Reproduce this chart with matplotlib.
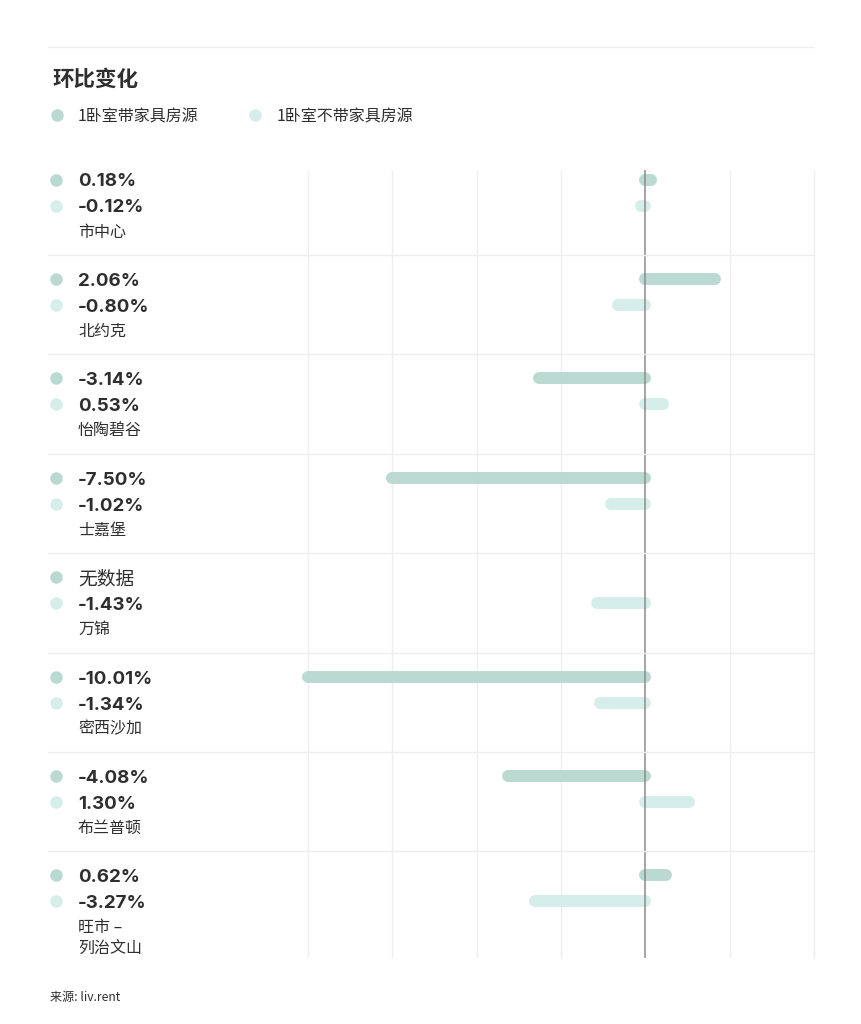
import matplotlib
matplotlib.use("Agg")
import matplotlib.pyplot as plt
from matplotlib.lines import Line2D

# ---- data ----
regions = ["市中心", "北约克", "怡陶碧谷", "士嘉堡", "万锦", "密西沙加", "布兰普顿", "旺市 –\n列治文山"]
furnished = [0.18, 2.06, -3.14, -7.50, None, -10.01, -4.08, 0.62]
unfurnished = [-0.12, -0.80, 0.53, -1.02, -1.43, -1.34, 1.30, -3.27]
series_names = ["1卧室带家具房源", "1卧室不带家具房源"]
grid_ticks = [-10, -7.5, -5, -2.5, 0, 2.5, 5]
title = "环比变化"
source = "来源: liv.rent"
no_data = "无数据"

# ---- style ----
C1 = "#b9d9d1"
C2 = "#d5eeea"
TXT = "#2e2e2e"
GRID = "#eeeeee"
W, H = 862, 1024
ROW_TOP0 = 155.5
ROW_H = 99.4

CJK = ["Noto Sans CJK SC", "DejaVu Sans"]
NUM = ["Inter", "Noto Sans CJK SC", "DejaVu Sans"]

fig = plt.figure(figsize=(W / 100, H / 100), dpi=100)
fig.patch.set_facecolor("white")


def fx(px):
    return px / W


def fy(py):
    return 1 - py / H


def hline(x0, x1, y, color=GRID, lw=1.0):
    fig.add_artist(Line2D([fx(x0), fx(x1)], [fy(y), fy(y)], color=color, lw=lw,
                          transform=fig.transFigure))


def dot(x, y, color):
    fig.add_artist(Line2D([fx(x)], [fy(y)], marker="o", markersize=9, color=color,
                          markeredgewidth=0, linestyle="none", transform=fig.transFigure))


# top rule
hline(48, 814, 47)

# title & legend
fig.text(fx(52), fy(79), title, family=CJK, fontsize=15.5, fontweight="bold",
         color=TXT, va="center", ha="left")
dot(57, 115, C1)
fig.text(fx(78), fy(116.5), series_names[0], family=CJK, fontsize=11.5, color=TXT,
         va="center", ha="left")
dot(255, 115, C2)
fig.text(fx(277), fy(116.5), series_names[1], family=CJK, fontsize=11.5, color=TXT,
         va="center", ha="left")

# bars axes
n = len(regions)
ax_left, ax_right = 308, 814
ax_top, ax_bottom = ROW_TOP0, ROW_TOP0 + n * ROW_H
ax = fig.add_axes([fx(ax_left), fy(ax_bottom), fx(ax_right) - fx(ax_left),
                   fy(ax_top) - fy(ax_bottom)])
ax.set_xlim(grid_ticks[0], grid_ticks[-1])
ax.set_ylim(n, 0)
ax.axis("off")

g0 = (170 - ROW_TOP0) / ROW_H
g1 = (958 - ROW_TOP0) / ROW_H
for t in grid_ticks:
    if t == 0:
        ax.vlines(t, g0, g1, color="#8c8c8c", lw=1.1, zorder=5, clip_on=False)
    else:
        ax.vlines(t, g0, g1, color=GRID, lw=1.0, zorder=0, clip_on=False)

off1 = 24 / ROW_H
off2 = 50 / ROW_H
for i in range(n):
    if furnished[i] is not None:
        ax.plot([0, furnished[i]], [i + off1, i + off1], color=C1, lw=8.6,
                solid_capstyle="round", zorder=3, clip_on=False)
    ax.plot([0, unfurnished[i]], [i + off2, i + off2], color=C2, lw=8.6,
            solid_capstyle="round", zorder=3, clip_on=False)

# row labels
for i in range(n):
    top = ROW_TOP0 + i * ROW_H
    if i > 0:
        hline(48, 814, top)
    dot(56, top + 24, C1)
    dot(56, top + 50, C2)
    if furnished[i] is None:
        fig.text(fx(78), fy(top + 26), no_data, family=CJK, fontsize=13.5,
                 color=TXT, va="center", ha="left")
    else:
        fig.text(fx(78), fy(top + 26.5), f"{furnished[i]:.2f}%", family=NUM,
                 fontsize=13.5, fontweight="bold", color=TXT, va="center", ha="left")
    fig.text(fx(78), fy(top + 52.5), f"{unfurnished[i]:.2f}%", family=NUM,
             fontsize=13.5, fontweight="bold", color=TXT, va="center", ha="left")
    fig.text(fx(78), fy(top + 68), regions[i], family=CJK, fontsize=11.5,
             color=TXT, va="top", ha="left", linespacing=1.38)

fig.text(fx(50), fy(998), source, family=CJK, fontsize=8.7, color=TXT,
         va="center", ha="left")

fig.savefig("out.png", dpi=100, facecolor="white")
